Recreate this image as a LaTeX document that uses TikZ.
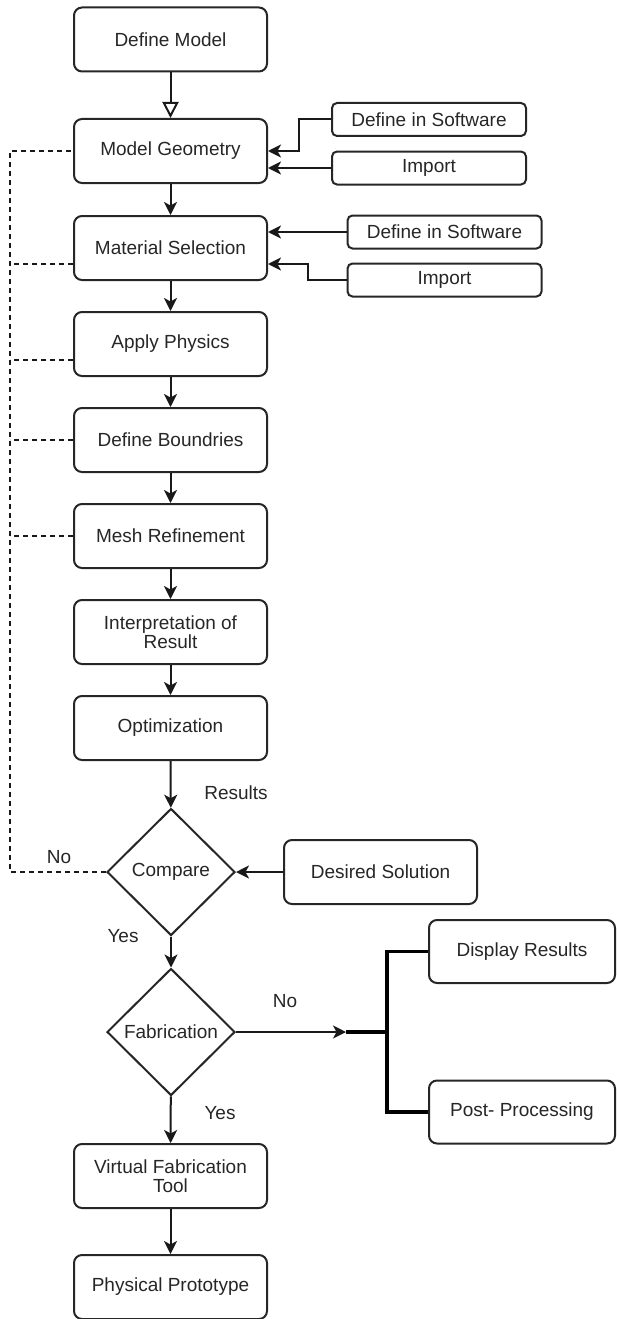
\documentclass[tikz,border=0pt]{standalone}
\usepackage{fontspec}
\setmainfont{Liberation Sans}
\usetikzlibrary{arrows.meta,shapes.geometric,calc}
\begin{document}
\begin{tikzpicture}[x=1pt,y=-1pt,
  font=\fontsize{19}{22.5}\selectfont,
  every node/.style={text=black!85},
  box/.style={draw=black!85,line width=2pt,rounded corners=8pt,minimum width=193pt,minimum height=64pt,inner sep=2pt,align=center},
  sbox/.style={draw=black!85,line width=2pt,rounded corners=5pt,minimum width=194pt,minimum height=33pt,inner sep=1pt,align=center},
  dia/.style={draw=black!85,line width=2pt,diamond,inner sep=0pt,minimum width=128pt,minimum height=127pt},
  arr/.style={draw=black!90,line width=2pt,-{Stealth[length=13pt,width=13pt,inset=3.5pt]}},
  dsh/.style={draw=black!90,line width=1.3pt,dash pattern=on 5pt off 4pt},
  thk/.style={draw=black,line width=3.4pt},
  lbl/.style={inner sep=0pt}
]
\useasboundingbox (0,0) rectangle (617,1319);
% main column
\node[box] (dm) at (170.5,39.5) {Define Model};
\node[box] (mg) at (170.5,151) {Model Geometry};
\node[box] (ms) at (170.5,248) {Material Selection};
\node[box] (ap) at (170.5,344) {Apply Physics};
\node[box] (db) at (170.5,440) {Define Boundries};
\node[box] (mr) at (170.5,536) {Mesh Refinement};
\node[box] (ir) at (170.5,632) {Interpretation of\\[-3pt]Result};
\node[box] (op) at (170.5,728) {Optimization};
\node[dia] (cmp) at (171,872) {Compare};
\node[dia] (fab) at (171,1032) {Fabrication};
\node[box] (vf) at (170.5,1176) {Virtual Fabrication\\[-3pt]Tool};
\node[box] (pp) at (170.5,1287) {Physical Prototype};
% side boxes
\node[sbox] (dis1) at (429,119.5) {Define in Software};
\node[sbox] (imp1) at (429,168) {Import};
\node[sbox] (dis2) at (444.5,232) {Define in Software};
\node[sbox] (imp2) at (444.5,280) {Import};
\node[box] (ds) at (380.5,872) {Desired Solution};
\node[box,minimum width=186pt,minimum height=63pt] (dr) at (522,951.5) {Display Results};
\node[box,minimum width=186pt,minimum height=63pt] (pproc) at (522,1112) {Post- Processing};
% labels
\node[lbl] (lres) at (236,793) {Results};
\node[lbl] (lno1) at (59,857) {No};
\node[lbl] (lyes1) at (123,936) {Yes};
\node[lbl] (lno2) at (285,1001) {No};
\node[lbl] (lyes2) at (220,1113) {Yes};
% coordinates
\coordinate (L) at (10,0);
\coordinate (J) at (346,1032);
\coordinate (B) at (387,1032);
% main flow
\draw[draw=black!90,line width=2pt,-{Triangle[open,length=16pt,width=16pt,fill=white]}] (dm) -- (mg);
\draw[arr] (mg) -- (ms);
\draw[arr] (ms) -- (ap);
\draw[arr] (ap) -- (db);
\draw[arr] (db) -- (mr);
\draw[arr] (mr) -- (ir);
\draw[arr] (ir) -- (op);
\draw[arr] (op) -- (cmp);
\draw[arr] (cmp) -- (fab);
\draw[arr] (fab) -- (vf);
\draw[arr] (vf) -- (pp);
\draw[arr] (ds) -- (cmp);
% side inputs
\draw[arr] (dis1.west) -- ++(-32,0) |- (mg.east);
\draw[arr] (imp1.west) -- (imp1.west -| mg.east);
\draw[arr] (dis2.west) -- (dis2.west -| ms.east);
\draw[arr] (imp2.west) -- ++(-39,0) |- ($(ms.east)+(0,16)$);
% feedback dashed
\draw[dsh] (cmp.west) -| (L |- mg.west) -- (mg.west);
\draw[dsh] ($(ms.west)+(0,16)$) -- (L |- {$(ms.west)+(0,16)$});
\draw[dsh] ($(ap.west)+(0,16)$) -- (L |- {$(ap.west)+(0,16)$});
\draw[dsh] (db.west) -- (L |- db.west);
\draw[dsh] (mr.west) -- (L |- mr.west);
% fabrication no branch
\draw[arr,line width=1.5pt] (fab.east) -- (J);
\draw[thk] (J) -- (B);
\draw[thk] (dr.west) -| (B) |- (pproc.west);
\end{tikzpicture}
\end{document}
